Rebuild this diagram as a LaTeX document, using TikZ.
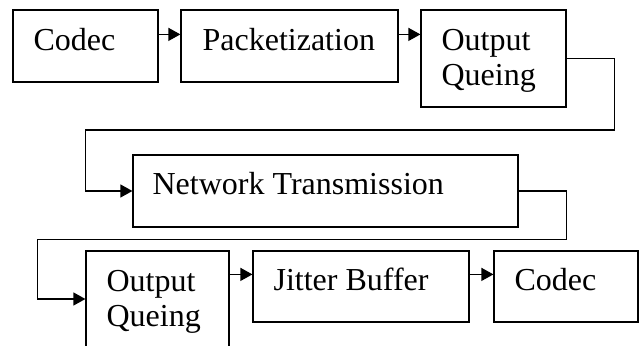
\documentclass[tikz,border=0pt]{standalone}
\usepackage{fontspec}
\setmainfont{Liberation Serif}
\usetikzlibrary{arrows.meta}

\tikzset{
  stage/.style={draw, line width=1.2pt, inner sep=0pt},
  txt/.style={font=\fontsize{32}{35}\selectfont, inner sep=0pt, anchor=base west, align=left},
  flow/.style={line width=1.2pt, -{Triangle[length=12pt,width=13pt]}}
}

\begin{document}
\begin{tikzpicture}[x=1pt, y=-1pt]
      \clip (0,0) rectangle (639,345);
      % boxes
      \node[stage, minimum width=145, minimum height=72]  (codecA) at (85.5,46)   {};
      \node[stage, minimum width=217, minimum height=72]  (pack)   at (289.5,46)  {};
      \node[stage, minimum width=145, minimum height=97]  (oqA)    at (493.5,58.5) {};
      \node[stage, minimum width=385, minimum height=72]  (net)    at (325.5,191) {};
      \node[stage, minimum width=143, minimum height=101] (oqB)    at (157.5,301.5) {};
      \node[stage, minimum width=216, minimum height=71]  (jitter) at (361,286.5) {};
      \node[stage, minimum width=144, minimum height=71]  (codecB) at (566,286.5) {};
      % texts (base = last line)
      \node[txt] (codecAt)  at ([shift={(21,41)}]codecA.north west) {Codec};
      \node[txt] (packt)    at ([shift={(22,41)}]pack.north west)   {Packetization};
      \node[txt] (oqAt)     at ([shift={(21,76)}]oqA.north west)    {Output\\Queing};
      \node[txt] (nett)     at ([shift={(20,40)}]net.north west)    {Network Transmission};
      \node[txt] (oqBt)     at ([shift={(21,76)}]oqB.north west)    {Output\\Queing};
      \node[txt] (jittert)  at ([shift={(21,40)}]jitter.north west) {Jitter Buffer};
      \node[txt] (codecBt)  at ([shift={(21,40)}]codecB.north west) {Codec};
      % connectors
      \draw[flow] ([yshift=-25pt]codecA.north east) -- ([yshift=-25pt]pack.north west);
      \draw[flow] ([yshift=-25pt]pack.north east) -- ([yshift=-25pt]oqA.north west);
      \draw[flow] (oqA.east) -- ++(48,0) |- ([xshift=-47pt,yshift=61pt]net.west) |- (net.west);
      \draw[flow] (net.east) -- ++(48,0) |- ([xshift=-48pt,yshift=62pt]oqB.west) |- ([yshift=2.5pt]oqB.west);
      \draw[flow] ([yshift=-24pt]oqB.north east) -- ([yshift=-24pt]jitter.north west);
      \draw[flow] ([yshift=-24pt]jitter.north east) -- ([yshift=-24pt]codecB.north west);
\end{tikzpicture}
\end{document}
